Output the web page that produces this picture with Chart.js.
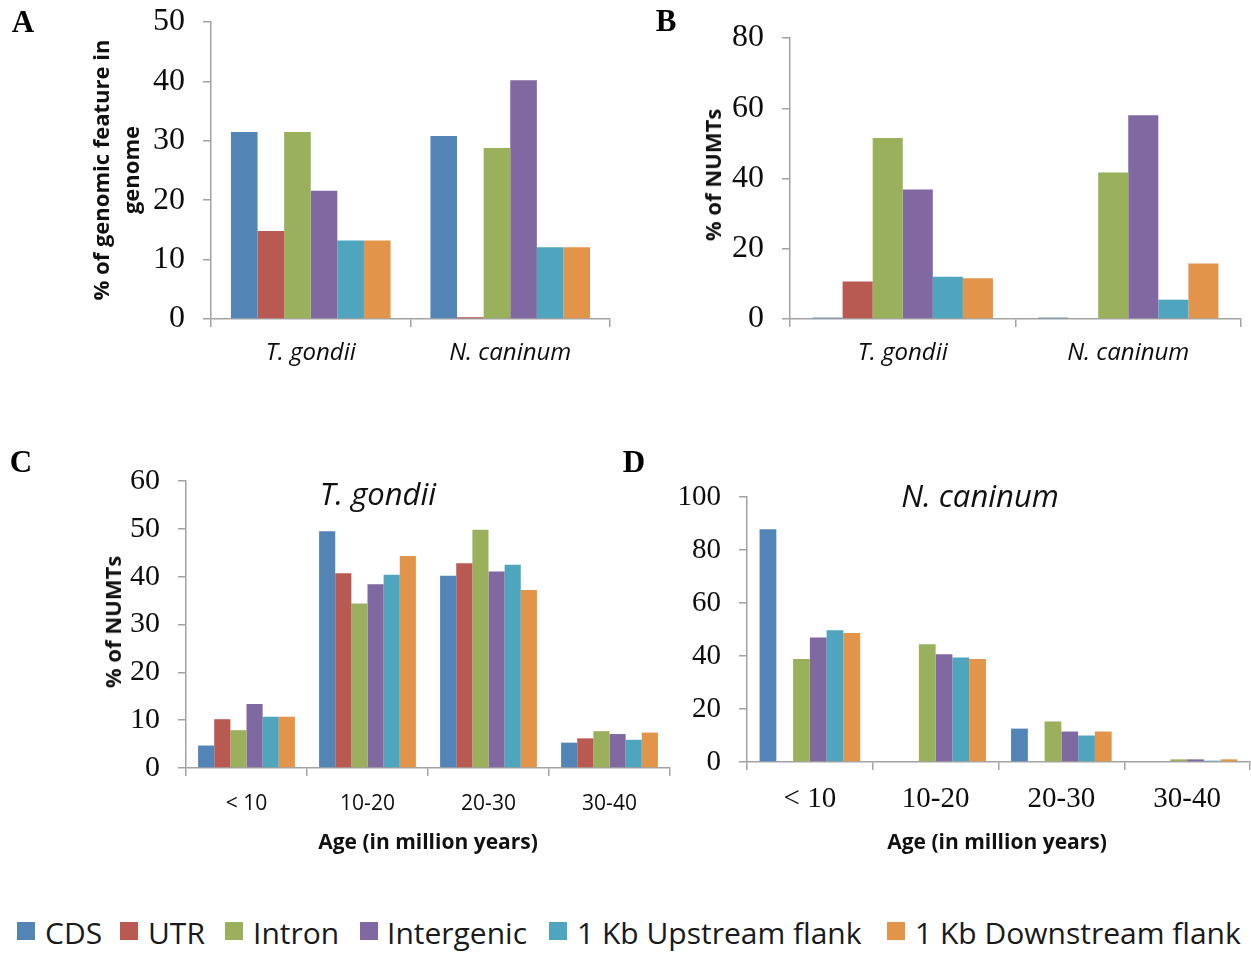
<!DOCTYPE html>
<html>
<head>
<meta charset="utf-8">
<script src="https://cdn.jsdelivr.net/npm/chart.js@4.4.1/dist/chart.umd.min.js"></script>
<style>
  html, body { margin:0; padding:0; background:#fff; }
  body { width:1251px; height:955px; position:relative; overflow:hidden; }
  canvas { position:absolute; }
  .t { position:absolute; white-space:nowrap; line-height:1; transform:translate(-50%,-50%); color:#111; }
  .rot { transform:translate(-50%,-50%) rotate(-90deg); }
  .letter { font-family:'Liberation Serif', serif; font-weight:bold; font-size:31px; color:#000; }
  .ytitle { font-family:'Open Sans', sans-serif; font-weight:bold; font-size:22px; }
  .xtitle { font-family:'Open Sans', sans-serif; font-weight:bold; font-size:21px; }
  .ptitle { font-family:'Open Sans', sans-serif; font-style:italic; font-size:31px; }
  .lgsq { position:absolute; width:18px; height:18px; top:922px; }
  .lgtx { position:absolute; top:933px; transform:translateY(-50%); line-height:1; font-family:'Open Sans', sans-serif; font-size:30px; color:#1a1a1a; white-space:nowrap; }
</style>
</head>
<body>
<canvas id="cA" width="620" height="380" style="left:0;top:0;"></canvas>
<canvas id="cB" width="631" height="380" style="left:620px;top:0;"></canvas>
<canvas id="cC" width="690" height="420" style="left:0;top:440px;"></canvas>
<canvas id="cD" width="601" height="420" style="left:650px;top:440px;"></canvas>

<div class="t letter" style="left:23px;top:21px;">A</div>
<div class="t letter" style="left:666px;top:20px;">B</div>
<div class="t letter" style="left:21px;top:461px;">C</div>
<div class="t letter" style="left:634px;top:461px;">D</div>

<div class="t rot ytitle" style="left:100px;top:170px;">% of genomic feature in</div>
<div class="t rot ytitle" style="left:130px;top:170px;">genome</div>
<div class="t rot ytitle" style="left:712px;top:175px;">% of NUMTs</div>
<div class="t rot ytitle" style="left:112px;top:622px;">% of NUMTs</div>

<div class="t ptitle" style="left:378px;top:493px;">T. gondii</div>
<div class="t ptitle" style="left:980px;top:495px;">N. caninum</div>

<div class="t xtitle" style="left:428px;top:841px;">Age (in million years)</div>
<div class="t xtitle" style="left:997px;top:841px;">Age (in million years)</div>

<div id="legend"></div>

<script>
// ---- Data ----
const SERIES = ['CDS', 'UTR', 'Intron', 'Intergenic', '1 Kb Upstream flank', '1 Kb Downstream flank'];
const COLORS = ['#5284B6', '#B85A52', '#9BB05C', '#8069A0', '#4FA5BD', '#E3944B'];

const SPECIES = ['T. gondii', 'N. caninum'];
const AGES = ['< 10', '10-20', '20-30', '30-40'];

// Panel A: % of genomic feature in genome (CDS, UTR, Intron, Intergenic, Upstream, Downstream)
const A_TGONDII  = [31.5, 14.8, 31.5, 21.6, 13.2, 13.2];
const A_NCANINUM = [30.8, 0.3, 28.8, 40.2, 12.1, 12.1];

// Panel B: % of NUMTs
const B_TGONDII  = [0.4, 10.7, 51.5, 36.9, 12.0, 11.6];
const B_NCANINUM = [0.4, 0, 41.7, 58.0, 5.5, 15.8];

// Panel C: T. gondii, % of NUMTs by age
const C_LT10  = [4.7, 10.2, 7.9, 13.4, 10.7, 10.7];
const C_10_20 = [49.5, 40.7, 34.4, 38.4, 40.4, 44.3];
const C_20_30 = [40.2, 42.8, 49.8, 41.1, 42.5, 37.2];
const C_30_40 = [5.3, 6.2, 7.7, 7.1, 5.9, 7.4];

// Panel D: N. caninum, % of NUMTs by age
const D_LT10  = [87.8, 0, 38.9, 47.0, 49.7, 48.7];
const D_10_20 = [0, 0, 44.4, 40.7, 39.4, 38.9];
const D_20_30 = [12.6, 0, 15.3, 11.5, 10.0, 11.5];
const D_30_40 = [0, 0, 1.0, 1.0, 0.5, 1.0];

// ---- Build ----
const AXIS = '#a3a3a3';

function datasetsFrom(groups) {
  return SERIES.map((name, i) => ({
    label: name,
    data: groups.map(g => g[i]),
    backgroundColor: COLORS[i],
    borderWidth: 0,
    categoryPercentage: 0.8,
    barPercentage: 1.0
  }));
}

function makeChart(id, labels, groups, o) {
  return new Chart(document.getElementById(id), {
    type: 'bar',
    data: { labels: labels, datasets: datasetsFrom(groups) },
    options: {
      responsive: false,
      animation: false,
      layout: { padding: { top: o.padTop, right: o.padRight, left: 0, bottom: 0 } },
      plugins: { legend: { display: false }, tooltip: { enabled: false } },
      scales: {
        x: {
          grid: { display: true, drawOnChartArea: false, drawTicks: true, tickLength: 8, color: AXIS, lineWidth: 1.5, offset: true },
          border: { color: AXIS, width: 1.5 },
          ticks: { font: o.xFont, color: '#0d0d0d', padding: o.xPad, maxRotation: 0, autoSkip: false },
          afterFit: s => { s.height = o.xH; s.paddingLeft = 0; s.paddingRight = 0; }
        },
        y: {
          min: 0, max: o.max,
          grid: { display: true, drawOnChartArea: false, drawTicks: true, tickLength: 8, color: AXIS, lineWidth: 1.5 },
          border: { color: AXIS, width: 1.5 },
          ticks: { stepSize: o.step, font: o.yFont, color: '#0d0d0d', padding: 18 },
          afterFit: s => { s.width = o.yW; s.paddingTop = 0; s.paddingBottom = 0; }
        }
      }
    }
  });
}

makeChart('cA', SPECIES, [A_TGONDII, A_NCANINUM], {
  padTop: 22, padRight: 10, xH: 61, yW: 211, max: 50, step: 10,
  yFont: { family: 'Liberation Serif', size: 32 },
  xFont: { family: 'Open Sans', size: 24, style: 'italic' }, xPad: 12
});

makeChart('cB', SPECIES, [B_TGONDII, B_NCANINUM], {
  padTop: 38, padRight: 10, xH: 61, yW: 170, max: 80, step: 20,
  yFont: { family: 'Liberation Serif', size: 32 },
  xFont: { family: 'Open Sans', size: 24, style: 'italic' }, xPad: 12
});

makeChart('cC', AGES, [C_LT10, C_10_20, C_20_30, C_30_40], {
  padTop: 41, padRight: 20, xH: 92, yW: 186, max: 60, step: 10,
  yFont: { family: 'Liberation Serif', size: 30 },
  xFont: { family: 'Open Sans', size: 21 }, xPad: 15
});

makeChart('cD', AGES, [D_LT10, D_10_20, D_20_30, D_30_40], {
  padTop: 57, padRight: 1, xH: 98, yW: 97, max: 100, step: 20,
  yFont: { family: 'Liberation Serif', size: 29 },
  xFont: { family: 'Liberation Serif', size: 29 }, xPad: 12
});

// ---- Legend ----
const LEG_SQ_X = [17, 120, 225, 360, 549, 887];
const LEG_TX_X = [45, 148, 253, 387, 577, 915];
const legend = document.getElementById('legend');
SERIES.forEach((name, i) => {
  const sq = document.createElement('div');
  sq.className = 'lgsq';
  sq.style.left = LEG_SQ_X[i] + 'px';
  sq.style.background = COLORS[i];
  legend.appendChild(sq);
  const tx = document.createElement('div');
  tx.className = 'lgtx';
  tx.style.left = LEG_TX_X[i] + 'px';
  tx.textContent = name;
  legend.appendChild(tx);
});
</script>
</body>
</html>
